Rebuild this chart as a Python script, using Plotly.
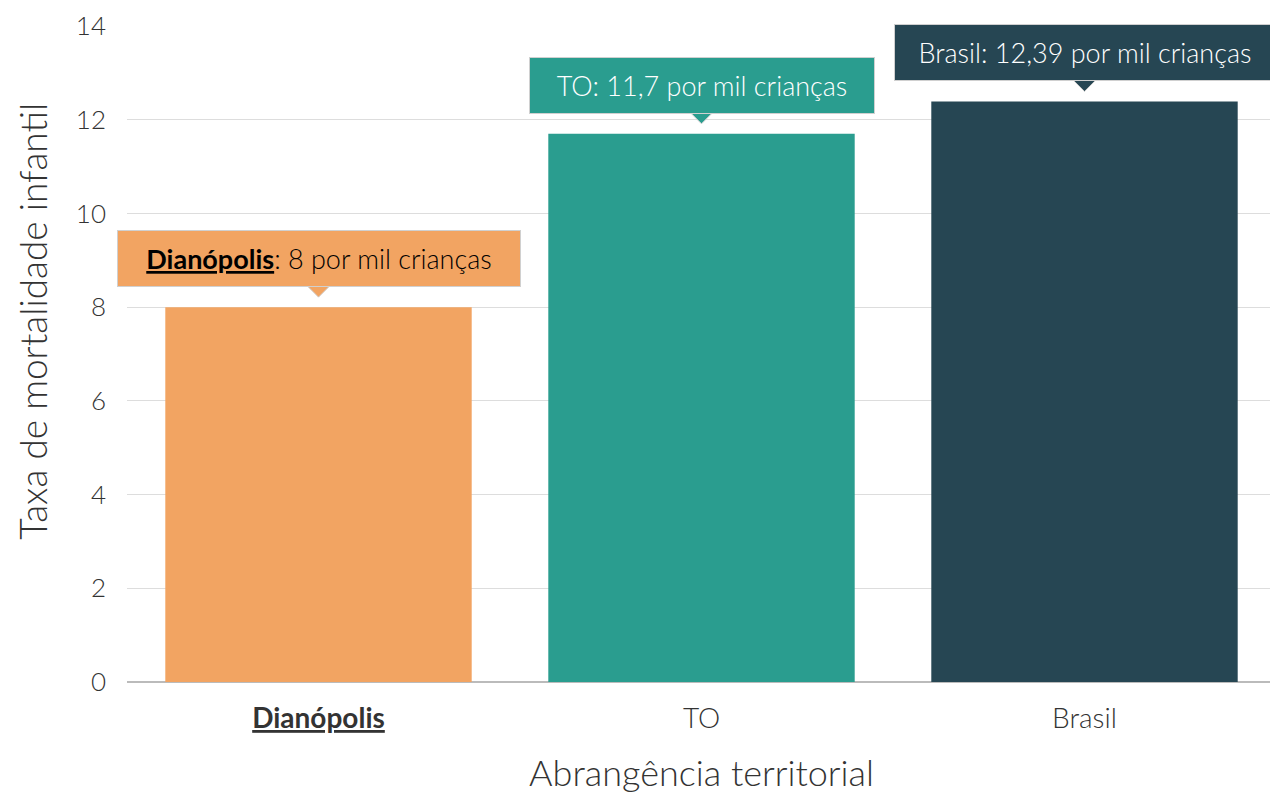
import plotly.graph_objects as go

categories = ["Dianópolis", "TO", "Brasil"]
values = [8, 11.7, 12.39]
value_labels = ["8", "11,7", "12,39"]
BOLD = '<span style="font-family:Lato;font-weight:700"><u>{}</u></span>'
tick_labels = [BOLD.format("Dianópolis"), "TO", "Brasil"]
tooltip_names = [BOLD.format("Dianópolis"), "TO", "Brasil"]
colors = ["#F2A462", "#2A9D8F", "#264653"]
text_colors = ["#000000", "#FFFFFF", "#FFFFFF"]

# style: tooltip box inner widths (px)
box_widths = [380, 322, 358]

FONT = "Lato Light, Lato"

fig = go.Figure()
fig.add_trace(go.Bar(
    x=categories, y=values, marker=dict(color=colors, line=dict(width=0)),
    width=0.8, hoverinfo="skip", showlegend=False,
))

for cat, v, lab, name, c, tc, bw in zip(categories, values, value_labels, tooltip_names, colors, text_colors, box_widths):
    fig.add_shape(
        type="path", xref="x", yref="y", xsizemode="pixel", ysizemode="pixel",
        xanchor=cat, yanchor=v,
        path="M -11,21 L 11,21 L 0,10 Z",
        fillcolor=c, line=dict(color="#D0D0D0", width=1), layer="above",
    )
    fig.add_annotation(
        x=cat, y=v, xref="x", yref="y",
        text=f"{name}: {lab} por mil crianças", showarrow=False,
        yanchor="bottom", yshift=20, width=bw,
        bgcolor=c, bordercolor="#D0D0D0", borderwidth=1, borderpad=11,
        font=dict(family=FONT, size=27, color=tc),
    )

# y-axis title
fig.add_annotation(
    x=0, y=0.549, xref="paper", yref="paper", xanchor="center", yanchor="middle",
    xshift=-94, textangle=-90, showarrow=False,
    text="Taxa de mortalidade infantil",
    font=dict(family=FONT, size=37, color="#333333"),
)

fig.update_layout(
    width=1276, height=794,
    margin=dict(l=127, r=0, t=26, b=112, autoexpand=False),
    paper_bgcolor="white", plot_bgcolor="white",
    font=dict(family=FONT, color="#333333"),
    bargap=0.2,
    xaxis=dict(
        range=[-0.5, 2.5],
        tickmode="array", tickvals=categories, ticktext=tick_labels,
        tickfont=dict(family=FONT, size=28, color="#333333"),
        title=dict(text="Abrangência territorial", font=dict(family=FONT, size=36, color="#333333"), standoff=28),
        showline=False, ticks="", automargin=False, ticklabelstandoff=17,
    ),
    yaxis=dict(
        range=[0, 14], dtick=2,
        tickfont=dict(family=FONT, size=26, color="#333333"),
        gridcolor="#DDDDDD", gridwidth=1,
        zeroline=True, zerolinecolor="#BBBBBB", zerolinewidth=2,
        ticks="", ticklabelstandoff=20, automargin=False,
    ),
)

fig.write_html(
    "out.html",
    config={"displayModeBar": False},
    post_script="document.body.style.margin='0';document.body.style.overflow='hidden';",
)
